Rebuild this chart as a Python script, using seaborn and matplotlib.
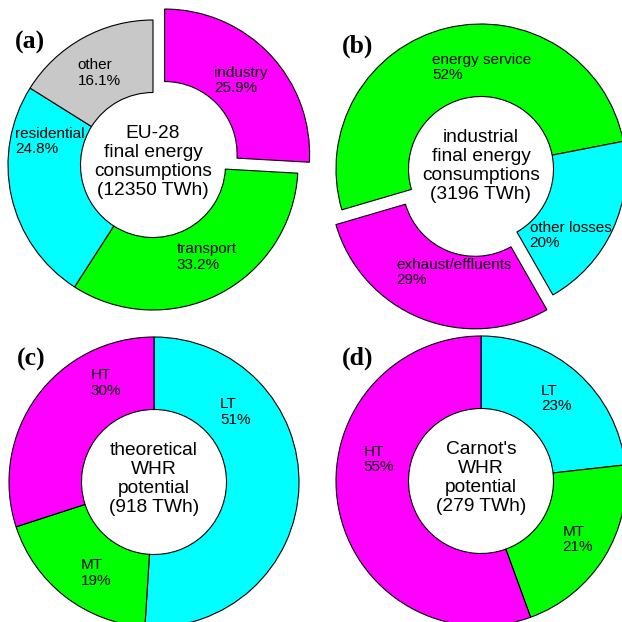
import numpy as np
import matplotlib
matplotlib.use('Agg')
import matplotlib.pyplot as plt
import seaborn as sns

sns.set_theme(style='white')
plt.rcParams['font.family'] = ['Liberation Sans', 'DejaVu Sans']
plt.rcParams['text.color'] = 'black'

# (a) EU-28 final energy consumptions
a_labels = ['industry', 'transport', 'residential', 'other']
a_values = [25.9, 33.2, 24.8, 16.1]
a_colors = ['#ff00ff', '#00ff00', '#00ffff', '#c8c8c8']

# (b) industrial final energy consumptions
b_labels = ['energy service', 'exhaust/effluents', 'other losses']
b_values = [52, 29, 20]
b_colors = ['#00ff00', '#ff00ff', '#00ffff']

# (c) theoretical WHR potential
c_labels = ['LT', 'MT', 'HT']
c_values = [51, 19, 30]
c_colors = ['#00ffff', '#00ff00', '#ff00ff']

# (d) Carnot's WHR potential
d_labels = ['LT', 'MT', 'HT']
d_values = [23, 21, 55]
d_colors = ['#00ffff', '#00ff00', '#ff00ff']

centers = ['EU-28\nfinal energy\nconsumptions\n(12350 TWh)',
           'industrial\nfinal energy\nconsumptions\n(3196 TWh)',
           'theoretical\nWHR\npotential\n(918 TWh)',
           "Carnot's\nWHR\npotential\n(279 TWh)"]

W = 622
R = 145      # pie radius in pixels
HALF = 200   # half size of each axes in pixels
fig = plt.figure(figsize=(W / 100, W / 100), dpi=100)


def donut(cx, cy, letter, labels, values, colors, center_txt, start, ccw,
          explode, lab_pos):
    ax = fig.add_axes([(cx - HALF) / W, 1 - (cy + HALF) / W,
                       2 * HALF / W, 2 * HALF / W])
    ax.set_facecolor('none')
    wedges, _ = ax.pie(values, colors=colors, startangle=start,
                       counterclock=ccw, explode=explode,
                       wedgeprops=dict(width=0.5, edgecolor='black',
                                       linewidth=0.8))
    lim = HALF / R
    ax.set_xlim(-lim, lim)
    ax.set_ylim(-lim, lim)
    ax.axis('off')
    for w, lab, v, ex, (ang, r) in zip(wedges, labels, values, explode, lab_pos):
        mid = np.deg2rad((w.theta1 + w.theta2) / 2)
        t = np.deg2rad(ang)
        x = r * np.cos(t) + ex * np.cos(mid)
        y = r * np.sin(t) + ex * np.sin(mid)
        ax.text(x, y, f'{lab}\n{v:g}%', ha='center', va='center',
                multialignment='left', fontsize=11, linespacing=1.12)
    ax.text(0, 0.02, center_txt, ha='center', va='center', fontsize=13.8,
            linespacing=1.15)
    fig.text((cx - 123) / W, 1 - (cy - 123) / W, letter,
             family='Liberation Serif', weight='bold', fontsize=18.5,
             ha='center', va='center')


donut(153, 165, '(a)', a_labels, a_values, a_colors, centers[0], 90, False,
      [0.11, 0, 0, 0], [(44, 0.73), (-59.6, 0.735), (167, 0.73), (120.4, 0.735)])
donut(481, 169, '(b)', b_labels, b_values, b_colors, centers[1], 11, True,
      [0, 0.11, 0], [(89.5, 0.70), (256.7, 0.63), (-36.7, 0.77)])
donut(154, 482, '(c)', c_labels, c_values, c_colors, centers[2], 90, False,
      [0, 0, 0], [(40.8, 0.74), (237.5, 0.744), (116, 0.76)])
donut(481, 481, '(d)', d_labels, d_values, d_colors, centers[3], 90, False,
      [0, 0, 0], [(47.5, 0.77), (-31, 0.78), (168, 0.72)])

fig.savefig('out.png', dpi=100, facecolor='white')
